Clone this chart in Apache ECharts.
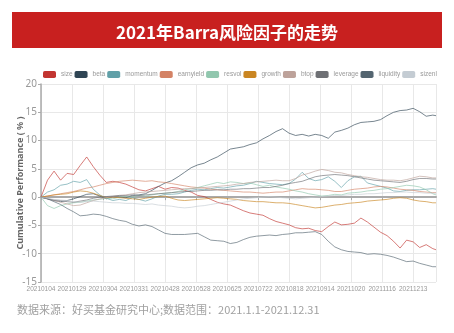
<!DOCTYPE html>
<html>
<head>
<meta charset="utf-8">
<script src="https://cdn.jsdelivr.net/npm/echarts@6/dist/echarts.min.js"></script>
<style>
  html, body { margin: 0; padding: 0; background: #fff; }
  #chart { width: 454px; height: 333px; }
</style>
</head>
<body>
<div id="chart"></div>
<script>
// Trading-day index (0 = 2021-01-04, 242 = 2021-12-31) at which each factor is sampled
var tradingDay = [0,4,8,12,16,20,24,28,32,36,40,44,48,52,56,60,64,68,72,76,80,84,88,92,96,100,104,108,112,116,120,124,128,132,136,140,144,148,152,156,160,164,168,172,176,180,184,188,192,196,200,204,208,212,216,220,224,228,232,236,240,242];

// Date labels shown every 19 trading days
var tickLabels = ['20210104','20210129','20210304','20210331','20210428','20210528','20210625','20210722','20210818','20210914','20211020','20211116','20211213'];

var factorNames = ['size','beta','momentum','earnyield','resvol','growth','btop','leverage','liquidity','sizenl'];

// Cumulative performance (%) of each Barra factor
var size = [0,3.0,4.6,3.0,4.2,4.0,5.6,7.1,5.4,3.9,2.6,2.8,2.6,2.3,1.8,1.3,1.1,1.5,1.9,1.4,1.7,1.6,1.2,0.9,0.3,0.1,-0.4,-0.9,-1.2,-1.4,-1.9,-2.4,-2.8,-3.0,-3.2,-3.8,-4.3,-4.6,-4.9,-5.4,-5.6,-5.5,-5.9,-6.1,-5.2,-4.4,-4.9,-4.8,-4.6,-3.7,-4.4,-5.3,-6.2,-6.8,-7.8,-9.0,-7.6,-7.9,-8.9,-8.4,-9.1,-9.3];
var beta = [0,-0.3,-0.6,-0.8,-0.6,-0.3,0.1,0.5,0.6,0.2,-0.3,0.1,0.0,-0.1,0.3,0.4,0.6,1.2,1.9,2.5,2.9,3.6,4.4,5.2,5.7,6.0,6.6,7.1,7.8,8.5,8.7,8.9,9.3,9.6,10.3,10.9,11.6,12.1,11.3,10.9,11.1,10.8,11.1,10.9,10.4,11.5,11.8,12.2,12.8,13.2,13.3,13.4,13.7,14.4,15.0,15.3,15.4,15.7,15.1,14.3,14.5,14.4];
var momentum = [0,0.9,1.3,2.1,2.3,2.8,2.6,3.1,1.4,0.4,-0.2,-0.6,-0.4,-0.6,-0.1,-0.4,-0.7,-0.3,0.2,0.5,0.5,0.6,0.9,1.2,1.4,1.3,1.5,1.7,1.6,1.8,2.0,2.1,2.4,2.8,2.6,2.4,2.3,2.2,2.4,3.2,4.4,3.3,2.9,3.1,3.6,2.8,1.7,2.9,3.6,3.7,2.5,2.2,1.9,1.6,1.1,1.0,1.2,1.3,1.3,1.4,1.5,1.4];
var earnyield = [0,0.2,0.4,0.6,0.8,1.0,1.3,1.6,1.8,2.1,2.4,2.6,2.8,2.9,3.0,2.9,2.8,2.9,2.7,2.6,2.4,2.2,2.0,1.8,1.7,1.6,1.4,1.3,1.2,1.1,1.0,0.9,0.9,0.8,0.7,0.8,0.9,0.9,1.1,1.3,1.5,1.4,1.4,1.3,1.2,1.0,1.0,1.2,1.4,1.5,1.6,1.8,1.9,1.8,1.6,1.4,1.3,1.2,1.0,0.9,0.8,0.8];
var resvol = [0,-1.5,-2.0,-1.5,-1.2,-1.0,-0.9,-0.7,-0.5,-0.4,-0.2,-0.3,0.0,0.1,0.0,0.3,0.2,0.4,0.6,0.7,0.8,1.0,1.3,1.5,1.7,2.0,2.3,2.6,2.4,2.7,2.6,2.4,2.5,2.2,1.9,2.1,1.8,1.6,1.4,1.1,0.9,0.6,0.4,0.2,0.3,0.5,0.4,0.7,0.8,0.9,1.1,1.2,1.4,1.5,1.7,1.9,2.1,2.0,1.8,1.3,0.6,0.4];
var growth = [0,0.2,0.4,0.5,0.6,0.9,1.1,1.0,0.7,0.3,-0.1,0.0,-0.1,-0.2,-0.3,-0.4,-0.2,0.0,0.1,0.2,-0.2,-0.5,-0.6,-0.5,-0.4,-0.3,-0.2,-0.1,-0.2,-0.3,-0.4,-0.6,-0.7,-0.8,-0.8,-0.9,-1.0,-1.0,-1.1,-1.3,-1.5,-1.7,-1.9,-1.8,-1.6,-1.4,-1.3,-1.1,-1.0,-0.9,-0.7,-0.6,-0.5,-0.4,-0.2,-0.1,-0.2,-0.5,-0.7,-0.8,-1.0,-1.0];
var btop = [0,-0.3,-0.6,-0.9,-1.2,-1.5,-1.4,-1.0,-0.6,-0.3,-0.1,0.1,0.3,0.4,0.6,0.8,0.9,1.0,1.1,1.2,1.3,1.4,1.5,1.5,1.6,1.7,1.8,1.9,2.0,2.1,2.3,2.4,2.6,2.7,2.8,2.9,3.0,2.9,2.9,3.3,3.9,4.2,4.6,4.9,4.7,4.4,4.3,4.0,3.8,3.6,3.5,3.3,3.1,3.0,3.0,2.9,3.1,3.4,3.7,3.6,3.4,3.4];
var leverage = [0,-0.3,-0.5,-0.6,-0.8,-0.9,-0.7,-0.5,-0.2,0.0,0.1,0.2,0.3,0.3,0.4,0.3,0.4,0.5,0.6,0.7,0.8,0.9,1.0,1.0,1.1,1.2,1.2,1.3,1.3,1.4,1.4,1.5,1.5,1.6,1.7,1.7,1.9,2.1,2.4,2.6,2.8,3.2,3.6,3.8,3.9,4.0,3.9,3.8,3.6,3.4,3.2,3.0,2.9,2.8,2.7,2.6,2.8,3.1,3.3,3.3,3.2,3.2];
var liquidity = [0,-0.3,-0.8,-1.3,-2.0,-2.6,-3.3,-3.2,-3.0,-3.1,-3.4,-3.8,-4.1,-4.3,-4.8,-5.1,-4.9,-5.2,-5.8,-6.4,-6.6,-6.6,-6.6,-6.5,-6.4,-7.0,-7.6,-7.7,-7.8,-8.2,-8.0,-7.5,-7.1,-6.9,-6.8,-6.7,-6.8,-6.6,-6.5,-6.3,-6.3,-6.2,-6.1,-6.6,-7.8,-8.8,-9.3,-9.6,-9.7,-9.8,-10.1,-10.0,-10.1,-10.3,-10.6,-11.0,-11.4,-11.3,-11.7,-12.0,-12.3,-12.3];
var sizenl = [0,-0.2,-0.4,-0.5,-0.6,-0.8,-0.9,-0.8,-0.7,-0.8,-0.9,-1.0,-1.0,-1.1,-1.1,-1.2,-1.3,-1.2,-1.4,-1.5,-1.6,-1.8,-1.9,-1.8,-1.6,-1.5,-1.3,-1.1,-0.9,-0.7,-0.5,-0.3,-0.2,-0.1,0.0,0.1,0.0,-0.1,-0.2,-0.3,-0.2,-0.1,0.0,0.1,0.2,0.3,0.3,0.4,0.5,0.5,0.6,0.6,0.7,0.8,0.8,0.9,0.9,0.8,0.8,0.7,0.7,0.7];

var factorValues = [size, beta, momentum, earnyield, resvol, growth, btop, leverage, liquidity, sizenl];
var palette = ['#c23531','#2f4554','#61a0a8','#d48265','#91c7ae','#ca8622','#bda29a','#6e7074','#546570','#c4ccd3'];

var LABEL_STEP = 19;
var LAST_DAY = 242;
var SANS = '"Liberation Sans", Arial, sans-serif';

var series = factorNames.map(function (name, i) {
  return {
    name: name,
    type: 'line',
    showSymbol: false,
    symbol: 'none',
    lineStyle: { width: 1, opacity: 0.65 },
    data: factorValues[i].map(function (v, k) { return [tradingDay[k], v]; })
  };
});

var chart = echarts.init(document.getElementById('chart'), null, { renderer: 'canvas' });
chart.setOption({
  animation: false,
  color: palette,
  textStyle: { fontFamily: '"Noto Sans", "Noto Sans CJK SC", sans-serif' },
  title: {
    text: '2021年Barra风险因子的走势',
    left: 'center',
    top: 19,
    textStyle: { color: '#fff', fontSize: 17, fontWeight: 'bold', fontFamily: '"Noto Sans CJK SC", sans-serif' }
  },
  graphic: [
    { type: 'rect', z: -1, shape: { x: 12, y: 12, width: 430, height: 36 }, style: { fill: '#c8201f' } },
    { type: 'text', left: 17, top: 304, style: { text: '数据来源：好买基金研究中心;数据范围：2021.1.1-2021.12.31', fill: '#a0a0a0', font: '11px "Noto Sans CJK SC", sans-serif' } }
  ],
  legend: {
    data: factorNames,
    left: 43,
    top: 71,
    width: 440,
    padding: 0,
    itemWidth: 13,
    itemHeight: 7,
    itemGap: 2,
    icon: 'roundRect',
    textStyle: { color: '#999', fontSize: 6.5, fontFamily: SANS }
  },
  grid: { left: 41, right: 18, top: 84, bottom: 51 },
  xAxis: {
    type: 'value',
    min: 0,
    max: LAST_DAY,
    interval: LABEL_STEP,
    axisLine: { lineStyle: { color: '#aaa', width: 2 } },
    axisTick: { show: true, length: 3, lineStyle: { color: '#aaa' } },
    axisLabel: {
      color: '#999',
      fontSize: 6.5,
      fontFamily: SANS,
      margin: 4,
      showMinLabel: true,
      showMaxLabel: false,
      formatter: function (v) {
        return v % LABEL_STEP === 0 ? (tickLabels[v / LABEL_STEP] || '') : '';
      }
    },
    splitLine: { show: true, lineStyle: { color: '#e8e8e8' } }
  },
  yAxis: {
    type: 'value',
    min: -15,
    max: 20,
    interval: 5,
    name: 'Cumulative Performance ( % )',
    nameLocation: 'middle',
    nameGap: 16,
    nameMoveOverlap: false,
    nameTextStyle: { color: '#666', fontSize: 9, fontWeight: 'bold' },
    axisLine: { show: true, lineStyle: { color: '#aaa', width: 1.5 } },
    axisTick: { show: true, length: 3, lineStyle: { color: '#aaa' } },
    axisLabel: { color: '#999', fontSize: 10, margin: 4 },
    splitLine: { show: true, lineStyle: { color: '#e8e8e8' } }
  },
  series: series
});
</script>
</body>
</html>
